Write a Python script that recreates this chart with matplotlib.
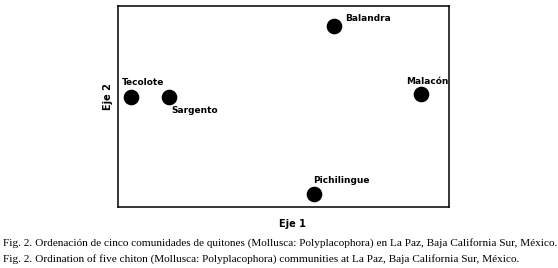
import matplotlib
matplotlib.use("Agg")
import matplotlib.pyplot as plt

sites = ["Tecolote", "Sargento", "Balandra", "Malacón", "Pichilingue"]
eje1 = [3.9, 15.4, 65.3, 91.5, 59.2]
eje2 = [54.7, 54.7, 90.0, 56.2, 6.5]
# label offsets in pixels (dx, dy)
offsets = {"Tecolote": (-9, 15), "Sargento": (2, -13), "Balandra": (11, 8),
           "Malacón": (-15, 13), "Pichilingue": (-1, 13)}

caption = ["Fig. 2. Ordenación de cinco comunidades de quitones (Mollusca: Polyplacophora) en La Paz, Baja California Sur, México.",
           "Fig. 2. Ordination of five chiton (Mollusca: Polyplacophora) communities at La Paz, Baja California Sur, México."]

W, H = 558, 268
fig = plt.figure(figsize=(W/100, H/100), dpi=100)
ax = fig.add_axes([118/W, 1-207/H, (449-118)/W, (207-6)/H])
ax.set_xlim(0, 100)
ax.set_ylim(0, 100)
ax.set_xticks([])
ax.set_yticks([])
for s in ax.spines.values():
    s.set_linewidth(1.1)
    s.set_color("black")

ax.scatter(eje1, eje2, s=105, color="black", zorder=3)
lab_font = ["Liberation Sans Narrow", "DejaVu Sans"]
for name, x, y in zip(sites, eje1, eje2):
    dx, dy = offsets[name]
    ax.annotate(name, (x, y), xytext=(dx, dy), textcoords="offset pixels",
                ha="left", va="center", fontsize=6.5, fontweight="bold",
                family=lab_font)

fig.text(292/W, 1-224/H, "Eje 1", ha="center", va="center", fontsize=7,
         fontweight="bold", family=lab_font)
fig.text(108/W, 1-97/H, "Eje 2", ha="center", va="center", fontsize=7,
         fontweight="bold", rotation=90, family=lab_font)

cap_font = ["Liberation Serif", "DejaVu Serif"]
fig.text(3/W, 1-243/H, caption[0], ha="left", va="center", fontsize=8.1, family=cap_font)
fig.text(3/W, 1-259/H, caption[1], ha="left", va="center", fontsize=8.1, family=cap_font)

fig.savefig("out.png", dpi=100)
